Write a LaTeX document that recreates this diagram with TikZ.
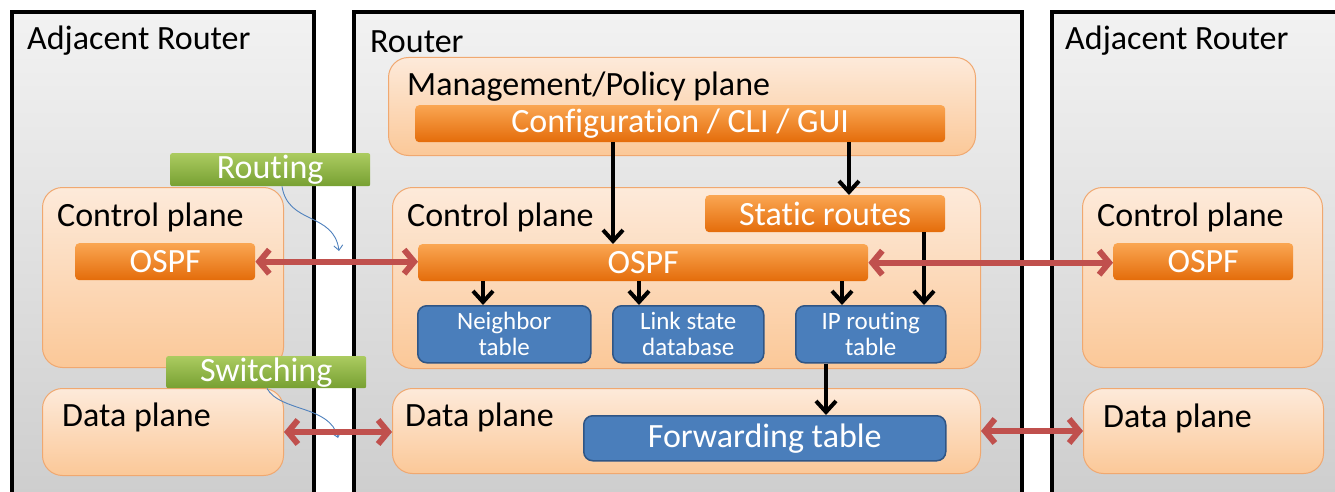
\documentclass[tikz,border=0pt]{standalone}
\usepackage{fontspec}
\setmainfont{Carlito}[Ligatures=NoCommon]
\usetikzlibrary{arrows.meta,calc}
\definecolor{rtTop}{HTML}{F2F2F2}
\definecolor{rtBot}{HTML}{CCCCCC}
\definecolor{plTop}{HTML}{FDEADA}
\definecolor{plBot}{HTML}{FBC898}
\definecolor{plLine}{HTML}{F0A870}
\definecolor{orTop}{HTML}{FAA652}
\definecolor{orBot}{HTML}{E46C0A}
\definecolor{blFill}{HTML}{4A7EBB}
\definecolor{blLine}{HTML}{2F5585}
\definecolor{grTop}{HTML}{ABCB60}
\definecolor{grBot}{HTML}{77A032}
\definecolor{redArr}{HTML}{C0504D}
\definecolor{thinBlue}{HTML}{4F81BD}
\tikzset{
  bx/.style={inner sep=0pt, anchor=north west},
  routerbox/.style={bx, draw=black, line width=4pt, top color=rtTop, bottom color=rtBot},
  planebox/.style={bx, draw=plLine, line width=1pt, rounded corners=20pt, top color=plTop, bottom color=plBot},
  orangebar/.style={bx, rounded corners=4pt, top color=orTop, bottom color=orBot, text=white, font=\fontsize{34}{38}\selectfont},
  bluebox/.style={bx, draw=blLine, line width=1.5pt, rounded corners=9pt, fill=blFill, text=white, align=center, font=\fontsize{25}{26}\selectfont},
  greenlabel/.style={bx, rounded corners=2pt, top color=grTop, bottom color=grBot, text=white, font=\fontsize{34}{38}\selectfont},
  title/.style={anchor=base west, inner sep=0pt, font=\fontsize{34}{38}\selectfont},
  blackarrow/.style={draw=black, line width=4pt, -{Straight Barb[length=11pt,width=20pt]}},
  redarrow/.style={draw=redArr, line width=6pt, {Straight Barb[length=10pt,width=24pt]}-{Straight Barb[length=10pt,width=24pt]}},
  thinarrow/.style={draw=thinBlue, line width=0.9pt, -{Straight Barb[length=5pt,width=9pt]}}
}
\begin{document}
\begin{tikzpicture}[x=1pt,y=-1pt]
\useasboundingbox (0,0) rectangle (1335,492);
\clip (0,0) rectangle (1335,492);
\fill[white] (0,0) rectangle (1335,492);
% routers
\node[routerbox, minimum width=302, minimum height=510] (rL) at (10,10) {};
\node[routerbox, minimum width=668, minimum height=510] (rM) at (352,10) {};
\node[routerbox, minimum width=320, minimum height=510] (rR) at (1050,10) {};
\node[title] (tL) at (27,50) {Adjacent Router};
\node[title] (tM) at (370,53) {Router};
\node[title] (tR) at (1065,50) {Adjacent Router};
% management plane
\node[planebox, minimum width=587, minimum height=98] (mgmt) at (388,57) {};
\node[title] (mgmtT) at (407,96) {Management/Policy plane};
\node[orangebar, minimum width=530, minimum height=37] (config) at (415,105) {Configuration / CLI / GUI};
% left router
\node[planebox, minimum width=241, minimum height=180] (cpL) at (42,187) {};
\node[title] (cpLT) at (57,226) {Control plane};
\node[orangebar, minimum width=180, minimum height=37] (ospfL) at (75,243) {OSPF};
\node[planebox, minimum width=241, minimum height=87] (dpL) at (42,388) {};
\node[title] (dpLT) at (62,426) {Data plane};
% middle router
\node[planebox, minimum width=588, minimum height=181] (cpM) at (392,187) {};
\node[title] (cpMT) at (407,226) {Control plane};
\node[orangebar, minimum width=240, minimum height=37] (static) at (705,195) {Static routes};
\node[orangebar, minimum width=450, minimum height=37] (ospfM) at (418,244) {OSPF};
\node[bluebox, minimum width=173, minimum height=57] (nbr) at (417,305) {Neighbor\\table};
\node[bluebox, minimum width=151, minimum height=57] (lsdb) at (612,305) {Link state\\database};
\node[bluebox, minimum width=150, minimum height=57] (iprt) at (795,305) {IP routing\\table};
\node[planebox, minimum width=588, minimum height=85] (dpM) at (392,388) {};
\node[title] (dpMT) at (405,426) {Data plane};
\node[bluebox, minimum width=362, minimum height=45, font=\fontsize{34}{38}\selectfont] (fwd) at (583,415) {Forwarding table};
% right router
\node[planebox, minimum width=240, minimum height=180] (cpR) at (1082,187) {};
\node[title] (cpRT) at (1097,226) {Control plane};
\node[orangebar, minimum width=180, minimum height=37] (ospfR) at (1113,243) {OSPF};
\node[planebox, minimum width=240, minimum height=85] (dpR) at (1083,388) {};
\node[title] (dpRT) at (1103,427) {Data plane};
% black arrows
\draw[blackarrow] (config.south -| 613,0) -- (ospfM.north -| 613,0);
\draw[blackarrow] (config.south -| 849,0) -- (static.north -| 849,0);
\draw[blackarrow] (ospfM.south -| 483,0) -- (nbr.north -| 483,0);
\draw[blackarrow] (ospfM.south -| 639,0) -- (lsdb.north -| 639,0);
\draw[blackarrow] (ospfM.south -| 842,0) -- (iprt.north -| 842,0);
\draw[blackarrow] (static.south -| 924,0) -- (iprt.north -| 924,0);
\draw[blackarrow] (iprt.south -| 826,0) -- (fwd.north -| 826,0);
% labels
\node[greenlabel, minimum width=200, minimum height=33] (routing) at (170,153) {Routing};
\node[greenlabel, minimum width=200, minimum height=32] (switching) at (166,356) {Switching};
% thin curved arrows
\coordinate (rEnd) at (339,251);
\coordinate (sEnd) at (338,438);
\draw[thinarrow] (routing.south -| 282,0) .. controls (288,225) and (334,212) .. (rEnd);
\draw[thinarrow] (switching.south -| 267,0) .. controls (280,412) and (330,405) .. (sEnd);
% red arrows
\draw[redarrow] (ospfL.east) -- (ospfL.east -| ospfM.west);
\draw[redarrow] (ospfM.east) -- (ospfM.east -| ospfR.west);
\draw[redarrow] (dpL.east) -- (dpL.east -| dpM.west);
\draw[redarrow] (dpM.east) -- (dpM.east -| dpR.west);
\end{tikzpicture}
\end{document}
